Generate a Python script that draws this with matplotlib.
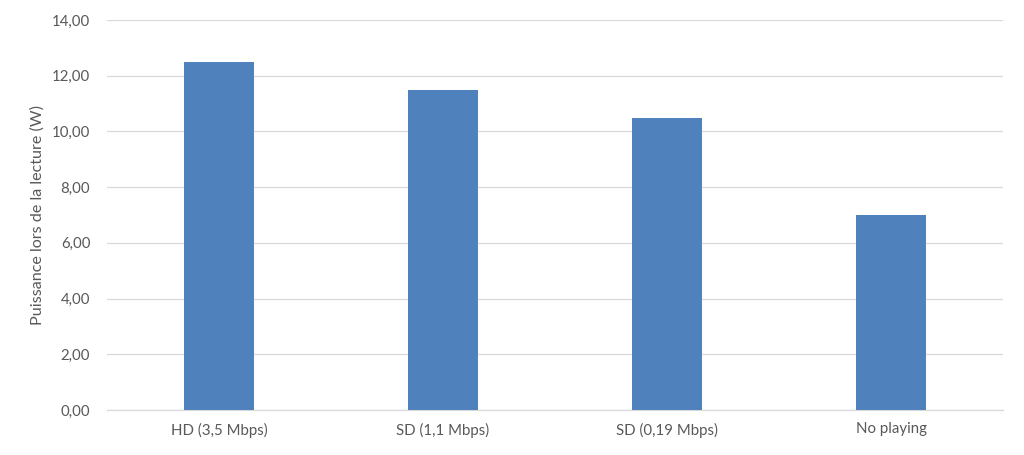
import matplotlib
matplotlib.use("Agg")
import matplotlib.pyplot as plt
from matplotlib.ticker import FuncFormatter, MultipleLocator

categories = ["HD (3,5 Mbps)", "SD (1,1 Mbps)", "SD (0,19 Mbps)", "No playing"]
power_w = [12.5, 11.5, 10.5, 7.0]

plt.rcParams["font.family"] = ["Lato", "DejaVu Sans"]
text_color = "#595959"

fig = plt.figure(figsize=(10.24, 4.55), dpi=100)
ax = fig.add_axes([107 / 1024, 1 - 410 / 455, 896 / 1024, 390 / 455])

ax.bar(range(len(categories)), power_w, width=0.314, color="#4F81BD", zorder=3)

ax.set_xlim(-0.5, len(categories) - 0.5)
ax.set_ylim(0, 14)
ax.yaxis.set_major_locator(MultipleLocator(2))
ax.yaxis.set_major_formatter(FuncFormatter(lambda v, p: f"{v:.2f}".replace(".", ",")))
ax.set_xticks(range(len(categories)))
ax.set_xticklabels(categories)

ax.grid(axis="y", color="#D9D9D9", linewidth=0.9, zorder=0)
for side in ["top", "right", "left"]:
    ax.spines[side].set_visible(False)
ax.spines["bottom"].set_color("#D9D9D9")
ax.spines["bottom"].set_linewidth(0.9)

ax.tick_params(axis="both", length=0, labelsize=10.8, colors=text_color)
ax.tick_params(axis="x", pad=9)
ax.tick_params(axis="y", pad=12)
ax.set_ylabel("Puissance lors de la lecture (W)", fontsize=11.6, color=text_color, labelpad=5)

fig.savefig("out.png", dpi=100)
